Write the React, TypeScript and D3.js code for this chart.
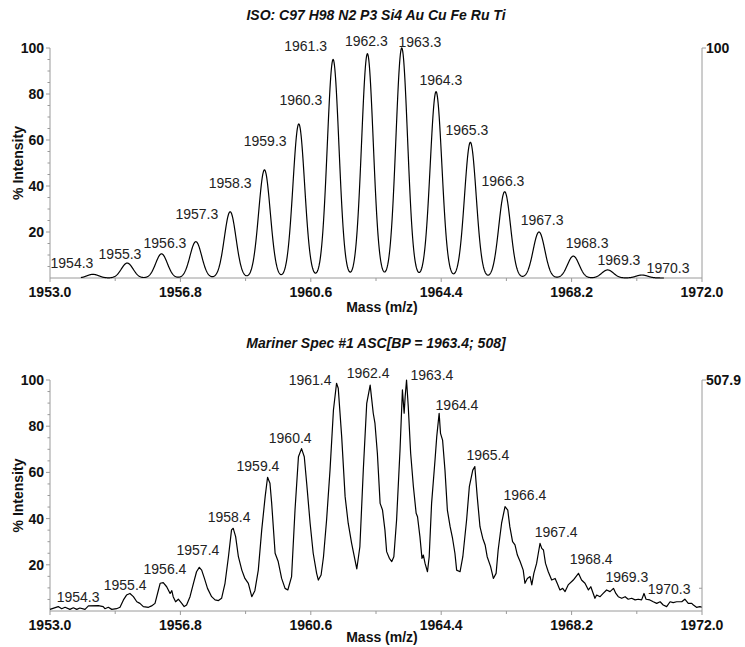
import React from 'react';
import * as d3 from 'd3';

// ---------- data ----------
const X_MIN = 1953.0;
const X_MAX = 1972.0;
const X_TICKS = [1953.0, 1956.8, 1960.6, 1964.4, 1968.2, 1972.0];
const Y_TICKS = [20, 40, 60, 80, 100];

const TOP_TITLE = 'ISO: C97 H98 N2 P3 Si4 Au Cu Fe Ru Ti';
const BOTTOM_TITLE = 'Mariner Spec #1 ASC[BP = 1963.4; 508]';

// theoretical isotope peaks (centroid mass, % intensity)
const ISO_MASS = [1954.25, 1955.25, 1956.25, 1957.25, 1958.25, 1959.25, 1960.25, 1961.25, 1962.25, 1963.25, 1964.25, 1965.25, 1966.25, 1967.25, 1968.25, 1969.25, 1970.25];
const ISO_INT = [1.6, 6.5, 10.5, 15.8, 28.8, 47, 67, 95, 97.5, 100, 81, 59, 37.5, 20, 9.5, 3.5, 1.3];
const ISO_WIDTH = 0.17; // peak sigma in Da
const ISO_RANGE = [1953.9, 1970.9];

// measured spectrum [mass, % intensity]
const SPECTRUM: [number, number][] = [
  [1953.0, 0.7], [1953.24, 1.9], [1953.34, 1.0], [1953.44, 1.6], [1953.58, 0.7], [1953.68, 1.4], [1953.78, 0.7], [1953.87, 1.3],
  [1954.02, 0.7], [1954.12, 2.2], [1954.41, 2.3], [1954.55, 1.9], [1954.6, 1.0], [1954.7, 1.6], [1954.8, 0.7], [1954.94, 1.0],
  [1955.04, 1.6], [1955.14, 4.8], [1955.23, 6.9], [1955.33, 7.6], [1955.43, 6.2], [1955.53, 4.0], [1955.62, 3.3], [1955.72, 1.9],
  [1955.87, 1.6], [1955.96, 2.2], [1956.06, 3.3], [1956.16, 9.1], [1956.21, 12.0], [1956.3, 12.3], [1956.4, 10.5], [1956.5, 7.6],
  [1956.55, 8.8], [1956.59, 6.2], [1956.66, 4.0], [1956.74, 5.1], [1956.84, 3.3], [1956.91, 1.9], [1956.98, 2.6], [1957.08, 6.2],
  [1957.18, 12.0], [1957.27, 17.0], [1957.35, 18.9], [1957.42, 17.7], [1957.5, 14.1], [1957.59, 9.8], [1957.71, 6.2], [1957.81, 4.8],
  [1957.91, 4.5], [1958.0, 5.5], [1958.1, 12.0], [1958.2, 23.5], [1958.29, 35.1], [1958.34, 35.8], [1958.41, 32.2], [1958.49, 23.5],
  [1958.59, 17.7], [1958.68, 14.1], [1958.78, 12.0], [1958.88, 6.2], [1958.97, 8.8], [1959.07, 17.7], [1959.17, 35.1], [1959.27, 49.5],
  [1959.34, 57.9], [1959.41, 55.3], [1959.46, 46.6], [1959.56, 25.0], [1959.65, 21.4], [1959.75, 14.1], [1959.85, 9.8], [1959.93, 9.1],
  [1960.04, 14.9], [1960.14, 43.7], [1960.24, 66.8], [1960.33, 70.3], [1960.41, 66.8], [1960.48, 55.3], [1960.58, 38.0], [1960.67, 25.0],
  [1960.77, 16.3], [1960.82, 13.4], [1960.9, 15.6], [1960.97, 23.5], [1961.06, 39.4], [1961.16, 61.0], [1961.26, 87.0], [1961.35, 98.6],
  [1961.4, 96.4], [1961.5, 75.5], [1961.6, 49.5], [1961.69, 38.0], [1961.79, 29.3], [1961.94, 18.2], [1962.03, 27.8], [1962.13, 61.0],
  [1962.23, 89.9], [1962.33, 97.8], [1962.42, 85.6], [1962.47, 81.2], [1962.54, 68.3], [1962.62, 46.6], [1962.69, 43.7], [1962.76, 35.1],
  [1962.81, 25.7], [1962.89, 22.8], [1962.96, 21.4], [1963.02, 23.5], [1963.1, 39.4], [1963.2, 69.7], [1963.27, 95.7], [1963.32, 85.6],
  [1963.35, 92.8], [1963.39, 100.0], [1963.44, 88.5], [1963.51, 68.3], [1963.59, 53.8], [1963.67, 42.3], [1963.71, 40.8], [1963.78, 32.2],
  [1963.84, 22.8], [1963.88, 24.2], [1963.93, 20.6], [1964.0, 17.0], [1964.05, 23.5], [1964.12, 46.6], [1964.22, 65.4], [1964.27, 75.5],
  [1964.34, 85.6], [1964.38, 76.9], [1964.44, 74.0], [1964.51, 61.0], [1964.58, 43.7], [1964.66, 36.5], [1964.73, 31.5], [1964.8, 25.0],
  [1964.85, 17.7], [1964.95, 17.0], [1965.03, 23.5], [1965.14, 39.4], [1965.22, 53.8], [1965.32, 61.0], [1965.38, 62.5], [1965.45, 49.5],
  [1965.53, 36.5], [1965.61, 31.5], [1965.68, 28.6], [1965.74, 23.5], [1965.84, 19.2], [1965.92, 14.1], [1966.0, 16.3], [1966.06, 26.4],
  [1966.16, 38.0], [1966.26, 45.2], [1966.34, 43.7], [1966.4, 36.5], [1966.48, 30.0], [1966.55, 28.6], [1966.62, 24.2], [1966.7, 21.4],
  [1966.79, 17.7], [1966.84, 12.0], [1966.91, 14.1], [1966.99, 14.9], [1967.04, 11.3], [1967.1, 16.3], [1967.18, 20.6], [1967.23, 25.0],
  [1967.28, 29.3], [1967.33, 27.1], [1967.38, 26.4], [1967.44, 20.6], [1967.52, 17.0], [1967.62, 13.4], [1967.72, 14.1], [1967.78, 12.0],
  [1967.86, 9.1], [1967.94, 9.8], [1968.01, 8.4], [1968.1, 11.3], [1968.25, 13.4], [1968.4, 16.3], [1968.49, 13.4], [1968.59, 12.0],
  [1968.69, 9.1], [1968.76, 10.5], [1968.83, 7.6], [1968.88, 5.5], [1968.93, 6.9], [1969.03, 6.2], [1969.12, 7.6], [1969.22, 9.1],
  [1969.32, 8.4], [1969.42, 9.8], [1969.49, 7.6], [1969.56, 6.2], [1969.66, 5.5], [1969.76, 6.2], [1969.85, 5.1], [1969.95, 5.5],
  [1970.05, 4.8], [1970.14, 5.1], [1970.24, 4.8], [1970.31, 7.6], [1970.37, 5.1], [1970.48, 4.8], [1970.58, 4.0], [1970.68, 3.3],
  [1970.78, 4.0], [1970.87, 2.6], [1970.97, 1.9], [1971.07, 4.0], [1971.16, 3.6], [1971.26, 4.0], [1971.41, 4.0], [1971.5, 5.1],
  [1971.6, 3.3], [1971.7, 3.3], [1971.75, 2.6], [1971.84, 1.6], [1971.94, 1.9], [1971.99, 1.6],
];

// peak annotations: text, anchor mass (text centre), anchor intensity (text baseline)
const TOP_LABELS = ['1954.3', '1955.3', '1956.3', '1957.3', '1958.3', '1959.3', '1960.3', '1961.3', '1962.3', '1963.3', '1964.3', '1965.3', '1966.3', '1967.3', '1968.3', '1969.3', '1970.3'];
const TOP_LABEL_MASS = [1953.64, 1955.04, 1956.35, 1957.28, 1958.25, 1959.27, 1960.31, 1960.45, 1962.22, 1963.78, 1964.39, 1965.15, 1966.2, 1967.34, 1968.65, 1969.58, 1971.01];
const TOP_LABEL_INT = [4.3, 8.3, 13.0, 25.7, 39.1, 57.4, 75.2, 98.7, 100.9, 100.6, 83.9, 62.2, 40.0, 23.0, 13.0, 5.7, 2.2];

const BOTTOM_LABELS = ['1954.3', '1955.4', '1956.4', '1957.4', '1958.4', '1959.4', '1960.4', '1961.4', '1962.4', '1963.4', '1964.4', '1965.4', '1966.4', '1967.4', '1968.4', '1969.3', '1970.3'];
const BOTTOM_LABEL_MASS = [1953.82, 1955.19, 1956.35, 1957.31, 1958.22, 1959.06, 1960.0, 1960.58, 1962.27, 1964.13, 1964.86, 1965.76, 1966.84, 1967.75, 1968.77, 1969.81, 1971.04];
const BOTTOM_LABEL_INT = [3.9, 9.1, 16.0, 24.2, 38.5, 60.6, 72.7, 97.8, 100.9, 100.0, 87.0, 65.4, 48.1, 32.0, 20.3, 12.6, 7.4];

const TOP_RIGHT_MAX = '100';
const BOTTOM_RIGHT_MAX = '507.9';
const BOTTOM_COUNTS_MAX = 507.9;
const BOTTOM_RIGHT_TICKS = [50];

// ---------- drawing ----------
const FONT = '"Liberation Sans", Arial, Helvetica, sans-serif';
const AXIS = '#9a9a9a';

type PanelProps = {
  title: string;
  titleY: number;
  top: number;
  bottom: number;
  xTitleY: number;
  points: [number, number][];
  labels: string[];
  labelMass: number[];
  labelInt: number[];
  rightMax: string;
  rightTicksPct: number[];
};

const LEFT = 50;
const RIGHT = 702;

function Panel(p: PanelProps) {
  const x = d3.scaleLinear().domain([X_MIN, X_MAX]).range([LEFT, RIGHT]);
  const y = d3.scaleLinear().domain([0, 100]).range([p.bottom, p.top]);
  const line = d3
    .line<[number, number]>()
    .x((d) => x(d[0]))
    .y((d) => y(d[1]));
  const minorX = d3.range(X_MIN + 1.9, X_MAX, 3.8);
  const minorY = d3.range(5, 100, 5).filter((v) => v % 20 !== 0);
  const midX = (LEFT + RIGHT) / 2;
  return (
    <g>
      <text x={midX} y={p.titleY} textAnchor="middle" fontFamily={FONT} fontSize={14} fontWeight="bold" fontStyle="italic" fill="#111">
        {p.title}
      </text>
      {/* axes */}
      <line x1={LEFT} x2={LEFT} y1={p.top} y2={p.bottom} stroke={AXIS} strokeWidth={1} />
      <line x1={RIGHT} x2={RIGHT} y1={p.top} y2={p.bottom} stroke={AXIS} strokeWidth={1} />
      <line x1={LEFT} x2={RIGHT} y1={p.bottom} y2={p.bottom} stroke={AXIS} strokeWidth={1} />
      {Y_TICKS.map((t) => (
        <g key={'yt' + t}>
          <line x1={LEFT - 4} x2={LEFT} y1={y(t)} y2={y(t)} stroke={AXIS} />
          <text x={LEFT - 6} y={y(t)} dy="0.36em" textAnchor="end" fontFamily={FONT} fontSize={14} fontWeight="bold" fill="#111">
            {t}
          </text>
        </g>
      ))}
      {minorY.map((t) => (
        <line key={'ym' + t} x1={LEFT - 2.5} x2={LEFT} y1={y(t)} y2={y(t)} stroke={AXIS} />
      ))}
      {/* right axis */}
      <line x1={RIGHT} x2={RIGHT + 4} y1={p.top} y2={p.top} stroke={AXIS} />
      <text x={RIGHT + 4} y={p.top} dy="0.36em" fontFamily={FONT} fontSize={14} fontWeight="bold" fill="#111">
        {p.rightMax}
      </text>
      {p.rightTicksPct.map((v, i) => (
        <line key={'rt' + i} x1={RIGHT - 3} x2={RIGHT} y1={y(v)} y2={y(v)} stroke={AXIS} />
      ))}
      {X_TICKS.map((t) => (
        <g key={'xt' + t}>
          <line x1={x(t)} x2={x(t)} y1={p.bottom} y2={p.bottom + 4} stroke={AXIS} />
          <text x={x(t)} y={p.bottom + 19} textAnchor="middle" fontFamily={FONT} fontSize={14} fontWeight="bold" fill="#111">
            {t.toFixed(1)}
          </text>
        </g>
      ))}
      {minorX.map((t) => (
        <line key={'xm' + t} x1={x(t)} x2={x(t)} y1={p.bottom} y2={p.bottom + 3} stroke={AXIS} />
      ))}
      <text x={midX + 6} y={p.xTitleY} textAnchor="middle" fontFamily={FONT} fontSize={14} fontWeight="bold" fill="#111">
        Mass (m/z)
      </text>
      <text
        transform={`translate(${LEFT - 27},${(p.top + p.bottom) / 2}) rotate(-90)`}
        textAnchor="middle"
        fontFamily={FONT}
        fontSize={14}
        fontWeight="bold"
        fill="#111"
      >
        % Intensity
      </text>
      {/* trace */}
      <path d={line(p.points) || ''} fill="none" stroke="#000" strokeWidth={1.2} strokeLinejoin="round" />
      {/* peak labels */}
      {p.labels.map((s, i) => (
        <text key={'pl' + i} x={x(p.labelMass[i])} y={y(p.labelInt[i])} textAnchor="middle" fontFamily={FONT} fontSize={14} fill="#222">
          {s}
        </text>
      ))}
    </g>
  );
}

export default function App() {
  const isoPoints: [number, number][] = d3.range(ISO_RANGE[0], ISO_RANGE[1], 0.01).map((m) => {
    let v = 0;
    for (let i = 0; i < ISO_MASS.length; i++) {
      const d = m - ISO_MASS[i];
      v += ISO_INT[i] * Math.exp(-(d * d) / (2 * ISO_WIDTH * ISO_WIDTH));
    }
    return [m, v];
  });
  const rightPct = BOTTOM_RIGHT_TICKS.map((c) => (c / BOTTOM_COUNTS_MAX) * 100);
  return (
    <svg width={745} height={647} style={{ position: 'absolute', left: 0, top: 0, background: '#fff' }}>
      <rect x={0} y={0} width={745} height={647} fill="#fff" />
      <Panel
        title={TOP_TITLE}
        titleY={20}
        top={48}
        bottom={278}
        xTitleY={312}
        points={isoPoints}
        labels={TOP_LABELS}
        labelMass={TOP_LABEL_MASS}
        labelInt={TOP_LABEL_INT}
        rightMax={TOP_RIGHT_MAX}
        rightTicksPct={[]}
      />
      <Panel
        title={BOTTOM_TITLE}
        titleY={348}
        top={380}
        bottom={611}
        xTitleY={642}
        points={SPECTRUM}
        labels={BOTTOM_LABELS}
        labelMass={BOTTOM_LABEL_MASS}
        labelInt={BOTTOM_LABEL_INT}
        rightMax={BOTTOM_RIGHT_MAX}
        rightTicksPct={rightPct}
      />
    </svg>
  );
}
